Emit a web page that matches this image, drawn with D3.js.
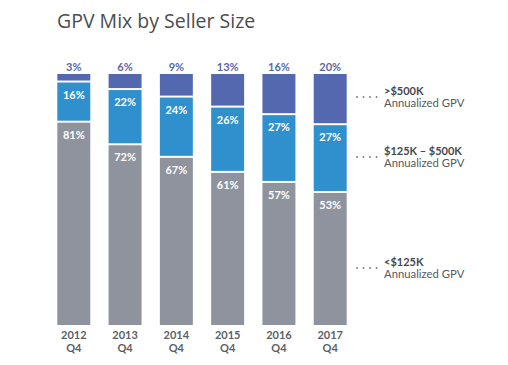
<!DOCTYPE html>
<html><head><meta charset="utf-8">
<script src="https://cdn.jsdelivr.net/npm/d3@7"></script>
<style>
body{margin:0;background:#fff;}
text{font-family:Lato,"Open Sans",sans-serif;}
</style></head>
<body><svg id="c" width="508" height="365"></svg>
<script>
const categories = ["2012","2013","2014","2015","2016","2017"];
const quarterLabel = "Q4";
const small = [81,72,67,61,57,53];   // <$125K
const mid = [16,22,24,26,27,27];     // $125K – $500K
const large = [3,6,9,13,16,20];      // >$500K
const seriesNames = ["<$125K","$125K – $500K",">$500K"];
const legendSub = "Annualized GPV";
const colors = ["#8e939d","#2f90cd","#5468b0"];

const svg = d3.select("#c");
const x = d3.scaleBand().domain(categories).range([57.3,346.7]).paddingInner(0.357).paddingOuter(0);
const y = d3.scaleLinear().domain([0,100]).range([325,74]);

svg.append("text").attr("x",57).attr("y",28).attr("font-size",19.5).attr("fill","#4a4d52")
  .style("font-family","'Open Sans',sans-serif")
  .text("GPV Mix by Seller Size");

const rows = categories.map((c,i)=>({cat:c, s0:small[i], s1:mid[i], s2:large[i]}));
const stack = d3.stack().keys(["s0","s1","s2"])(rows);

stack.forEach((layer,k)=>{
  const g = svg.append("g");
  layer.forEach((d,i)=>{
    const top = y(d[1]) + (k<2?1:0);
    const bot = y(d[0]) - (k>0?1:0);
    g.append("rect").attr("x",x(d.data.cat)).attr("width",x.bandwidth())
      .attr("y",top).attr("height",bot-top).attr("fill",colors[k]);
    if(k<2){
      g.append("text").attr("x",x(d.data.cat)+x.bandwidth()/2).attr("y",top+16)
        .attr("text-anchor","middle").attr("font-size",11).attr("font-weight",700)
        .attr("fill","#fff").text(d.data["s"+k]+"%");
    } else {
      g.append("text").attr("x",x(d.data.cat)+x.bandwidth()/2).attr("y",y(100)-3)
        .attr("text-anchor","middle").attr("font-size",11).attr("font-weight",700)
        .attr("fill","#5a67a6").text(d.data.s2+"%");
    }
  });
});

// x labels
const xa = svg.append("g");
categories.forEach(c=>{
  const cx = x(c)+x.bandwidth()/2;
  xa.append("text").attr("x",cx).attr("y",339).attr("text-anchor","middle")
    .attr("font-size",11).attr("font-weight",700).attr("fill","#5c5f65").text(c);
  xa.append("text").attr("x",cx).attr("y",352).attr("text-anchor","middle")
    .attr("font-size",11).attr("font-weight",700).attr("fill","#5c5f65").text(quarterLabel);
});

// legend
const legendY = [91,151,262];
const order = [2,1,0];
order.forEach((k,j)=>{
  const ly = legendY[j];
  const g = svg.append("g");
  for(let t=0;t<4;t++) g.append("circle").attr("cx",357+t*6.5).attr("cy",ly+6).attr("r",0.9).attr("fill","#777");
  g.append("text").attr("x",384).attr("y",ly+4).attr("font-size",11).attr("font-weight",700).attr("fill","#45484d").text(seriesNames[k]);
  g.append("text").attr("x",384).attr("y",ly+16).attr("font-size",11.3).attr("fill","#55585e").text(legendSub);
});
</script></body></html>
